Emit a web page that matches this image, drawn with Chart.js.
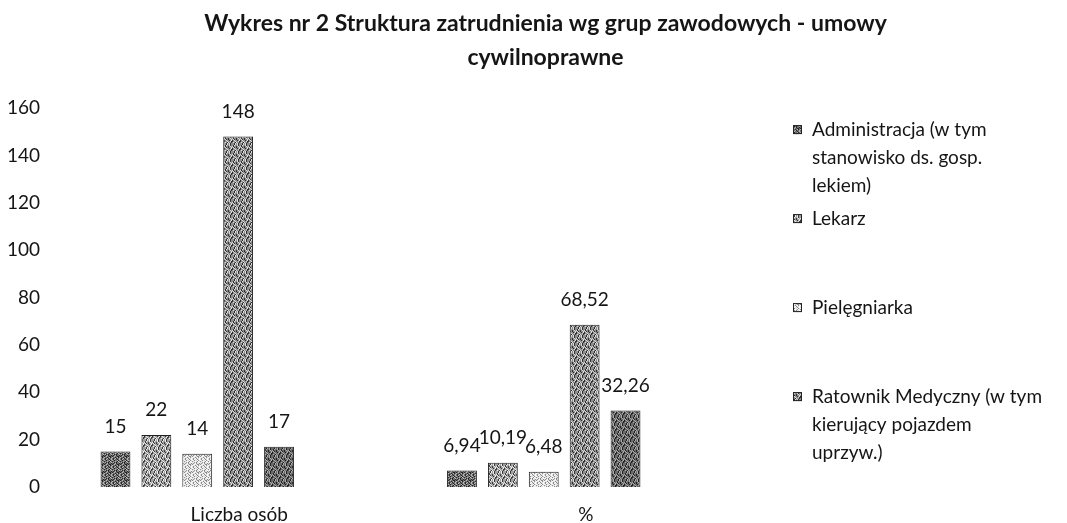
<!DOCTYPE html>
<html>
<head>
<meta charset="utf-8">
<script src="https://cdn.jsdelivr.net/npm/chart.js@4.4.1/dist/chart.umd.min.js"></script>
<style>
  html, body { margin: 0; padding: 0; background: #fff; }
  #wrap { width: 1067px; height: 523px; }
</style>
</head>
<body>
<div id="wrap"><canvas id="chart" width="1067" height="523"></canvas></div>
<script>
const categories = ['Liczba osób', '%'];
const seriesNames = [
  'Administracja (w tym\nstanowisko ds. gosp.\nlekiem)',
  'Lekarz',
  'Pielęgniarka',
  'Ratownik Medyczny (w tym\nkierujący pojazdem\nuprzyw.)',
  'Pozostali'
];
const administracja = [15, 6.94];
const lekarz = [22, 10.19];
const pielegniarka = [14, 6.48];
const ratownik = [148, 68.52];
const pozostali = [17, 32.26];
const legendCount = 4; // the 5th entry is cut off in the original

const FONT = 'Lato';
const INK = '#151515';

// scanned-looking grey textures
const maskA = '1020011020010210010210020120010220100210100201200210100201021001';
const maskB = '0012021001200210210010200210100210200102100200210201200100120210';

function makePattern(base, dark, light, mask) {
  const c = document.createElement('canvas');
  c.width = 8; c.height = 8;
  const g = c.getContext('2d');
  g.fillStyle = base;
  g.fillRect(0, 0, 8, 8);
  for (let i = 0; i < 64; i++) {
    const m = mask[i];
    if (m === '0') continue;
    g.fillStyle = m === '1' ? dark : light;
    g.fillRect(i % 8, Math.floor(i / 8), 1, 1);
  }
  return g.createPattern(c, 'repeat');
}

const fills = [
  makePattern('#6e6e6e', '#262626', '#b8b8b8', maskA),
  makePattern('#a2a2a2', '#3c3c3c', '#ececec', maskB),
  makePattern('#e2e2e2', '#8c8c8c', '#ffffff', maskA),
  makePattern('#8e8e8e', '#303030', '#dadada', maskB),
  makePattern('#6a6a6a', '#222222', '#acacac', maskB)
];

const seriesData = [administracja, lekarz, pielegniarka, ratownik, pozostali];

// numbers above bars, Polish decimal comma
const valueLabels = {
  id: 'valueLabels',
  afterDatasetsDraw(chart) {
    const ctx = chart.ctx;
    ctx.save();
    ctx.font = '19px ' + FONT;
    ctx.fillStyle = INK;
    ctx.textAlign = 'center';
    ctx.textBaseline = 'middle';
    chart.data.datasets.forEach(function(ds, i) {
      chart.getDatasetMeta(i).data.forEach(function(bar, j) {
        ctx.fillText(String(ds.data[j]).replace('.', ','), bar.x, bar.y - 25);
      });
    });
    ctx.restore();
  }
};

// legend column on the right with wrapped labels
const sideLegend = {
  id: 'sideLegend',
  beforeInit(chart) {
    const box = {
      position: 'right',
      weight: 0,
      fullSize: false,
      options: {},
      left: 0, top: 0, right: 0, bottom: 0, width: 0, height: 0,
      isHorizontal() { return false; },
      update(maxW, maxH) { this.width = 350; this.height = maxH; },
      draw() {
        const ctx = chart.ctx;
        ctx.save();
        ctx.font = '19px ' + FONT;
        ctx.textBaseline = 'middle';
        for (let i = 0; i < legendCount; i++) {
          const y = chart.chartArea.top + 22 + i * 89;
          ctx.fillStyle = fills[i];
          ctx.fillRect(box.left + 76, y - 5, 9, 9);
          ctx.strokeStyle = '#222';
          ctx.lineWidth = 1;
          ctx.strokeRect(box.left + 76.5, y - 4.5, 8, 8);
          ctx.fillStyle = INK;
          seriesNames[i].split('\n').forEach(function(t, k) {
            ctx.fillText(t, box.left + 95, y + k * 28);
          });
        }
        ctx.restore();
      }
    };
    Chart.layouts.addBox(chart, box);
  }
};

const datasets = seriesData.map(function(d, i) {
  return {
    label: seriesNames[i].replace(/\n/g, ' '),
    data: d,
    backgroundColor: fills[i],
    borderColor: '#1e1e1e',
    borderWidth: 1,
    categoryPercentage: 0.59,
    barPercentage: 0.73
  };
});

const ctx = document.getElementById('chart').getContext('2d');
const chart = new Chart(ctx, {
  type: 'bar',
  data: { labels: categories, datasets: datasets },
  plugins: [valueLabels, sideLegend],
  options: {
    responsive: false,
    animation: false,
    layout: { padding: { left: 24, right: 0, top: 0, bottom: 0 } },
    plugins: {
      legend: { display: false },
      tooltip: { enabled: false },
      title: {
        display: true,
        text: ['Wykres nr 2 Struktura zatrudnienia wg grup zawodowych - umowy', 'cywilnoprawne'],
        color: INK,
        font: { family: FONT, size: 23, weight: 'bold', lineHeight: 1.48 },
        padding: { top: 7, bottom: 33 }
      }
    },
    scales: {
      x: {
        grid: { display: false, drawTicks: false },
        border: { display: false },
        ticks: { color: INK, font: { family: FONT, size: 19 }, padding: 16, labelOffset: 42 },
        afterFit(s) { s.height = 36; }
      },
      y: {
        min: 0,
        max: 160,
        grid: { display: false, drawTicks: false },
        border: { display: false },
        ticks: {
          stepSize: 20, color: INK, font: { family: FONT, size: 19 },
          mirror: true, crossAlign: 'far', padding: -17
        },
        afterFit(s) { s.width = 0; }
      }
    }
  }
});
</script>
</body>
</html>
